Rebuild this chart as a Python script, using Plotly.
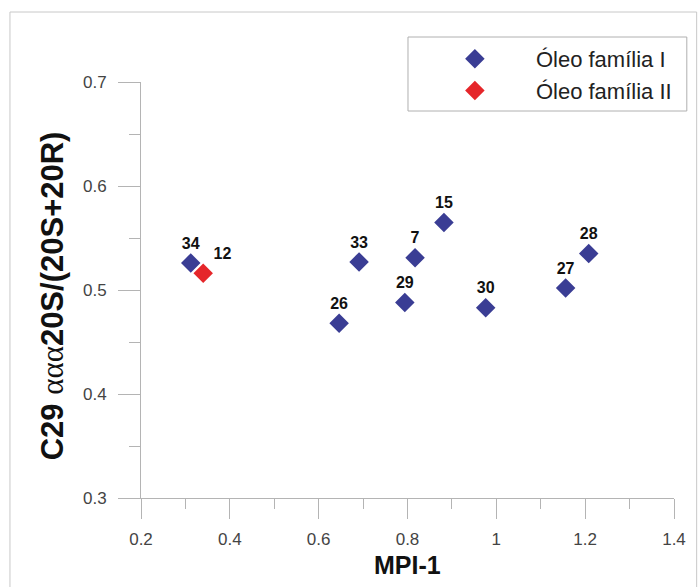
import plotly.graph_objects as go

# Data
fam1_labels = ["34", "33", "7", "15", "29", "26", "30", "27", "28"]
fam1_x = [0.312, 0.691, 0.817, 0.882, 0.794, 0.646, 0.976, 1.156, 1.208]
fam1_y = [0.526, 0.527, 0.531, 0.565, 0.488, 0.468, 0.483, 0.502, 0.535]

fam2_labels = ["12"]
fam2_x = [0.340]
fam2_y = [0.516]

x_ticks = [0.2, 0.4, 0.6, 0.8, 1.0, 1.2, 1.4]
x_ticktext = ["0.2", "0.4", "0.6", "0.8", "1", "1.2", "1.4"]
y_ticks = [0.3, 0.4, 0.5, 0.6, 0.7]
y_ticktext = ["0.3", "0.4", "0.5", "0.6", "0.7"]

W, H = 698, 587
L, R, T, B = 141, 16, 82, 89
pw, ph = W - L - R, H - T - B

def px(x):
    return (x - L) / pw

def py(y):
    return (H - B - y) / ph

BLUE = "#3a3d94"
RED = "#e5262a"
AXC = "#b4b4b4"
FONT = "Liberation Sans, Arial, sans-serif"

fig = go.Figure()
fig.add_trace(go.Scatter(
    x=fam1_x, y=fam1_y, mode="markers+text", name="Óleo família I",
    text=fam1_labels, textposition="top center",
    textfont=dict(family=FONT, size=16, color="#111111", weight="bold"),
    marker=dict(symbol="diamond", size=15, color=BLUE),
    cliponaxis=False,
))
fig.add_trace(go.Scatter(
    x=fam2_x, y=fam2_y, mode="markers+text", name="Óleo família II",
    text=fam2_labels, textposition="top right",
    textfont=dict(family=FONT, size=16, color="#111111", weight="bold"),
    marker=dict(symbol="diamond", size=15, color=RED),
    cliponaxis=False,
))

fig.update_layout(
    width=W, height=H,
    margin=dict(l=L, r=R, t=T, b=B, pad=0),
    paper_bgcolor="white", plot_bgcolor="white",
    showlegend=True,
    legend=dict(
        x=px(418), y=py(38), xanchor="left", yanchor="top",
        borderwidth=0, bgcolor="rgba(0,0,0,0)",
        font=dict(family=FONT, size=22, color="#222222"),
        itemwidth=112, tracegroupgap=0,
    ),
    font=dict(family=FONT),
)

fig.update_xaxes(
    range=[0.2, 1.4], tickvals=x_ticks, ticktext=x_ticktext,
    showline=True, linecolor=AXC, linewidth=1,
    ticks="outside", ticklen=20, tickcolor=AXC, tickwidth=1,
    minor=dict(ticks="outside", ticklen=10, dtick=0.1, tickcolor=AXC, tickwidth=1),
    showgrid=False, zeroline=False,
    tickfont=dict(family=FONT, size=17, color="#444444"),
    ticklabelstandoff=6,
)
fig.update_yaxes(
    range=[0.3, 0.7], tickvals=y_ticks, ticktext=y_ticktext,
    showline=True, linecolor=AXC, linewidth=1,
    ticks="outside", ticklen=22, tickcolor=AXC, tickwidth=1,
    minor=dict(ticks="outside", ticklen=11, dtick=0.05, tickcolor=AXC, tickwidth=1),
    showgrid=False, zeroline=False,
    tickfont=dict(family=FONT, size=17, color="#444444"),
    ticklabelstandoff=8,
)

# outer light frame
fig.add_shape(type="rect", xref="paper", yref="paper",
              x0=px(8), y0=py(592), x1=px(705), y1=py(12),
              line=dict(color="#c8c8c8", width=1), fillcolor="rgba(0,0,0,0)", layer="below")
# legend box
fig.add_shape(type="rect", xref="paper", yref="paper",
              x0=px(412), y0=py(111), x1=px(695), y1=py(37),
              line=dict(color="#b0b0b0", width=1), fillcolor="white", layer="below")

# axis titles
fig.add_annotation(xref="paper", yref="paper", x=px(411), y=py(565),
                   text="<b>MPI-1</b>", showarrow=False,
                   font=dict(family=FONT, size=25, color="#111111"),
                   xanchor="center", yanchor="middle")
fig.add_annotation(xref="paper", yref="paper", x=px(51), y=py(296),
                   text="<b>C29 </b><span style='font-family:Liberation Serif, DejaVu Serif, serif;font-weight:normal'>ααα</span><b>20S/(20S+20R)</b>",
                   showarrow=False, textangle=-90,
                   font=dict(family=FONT, size=31, color="#111111"),
                   xanchor="center", yanchor="middle")

fig.write_html("out.html")
